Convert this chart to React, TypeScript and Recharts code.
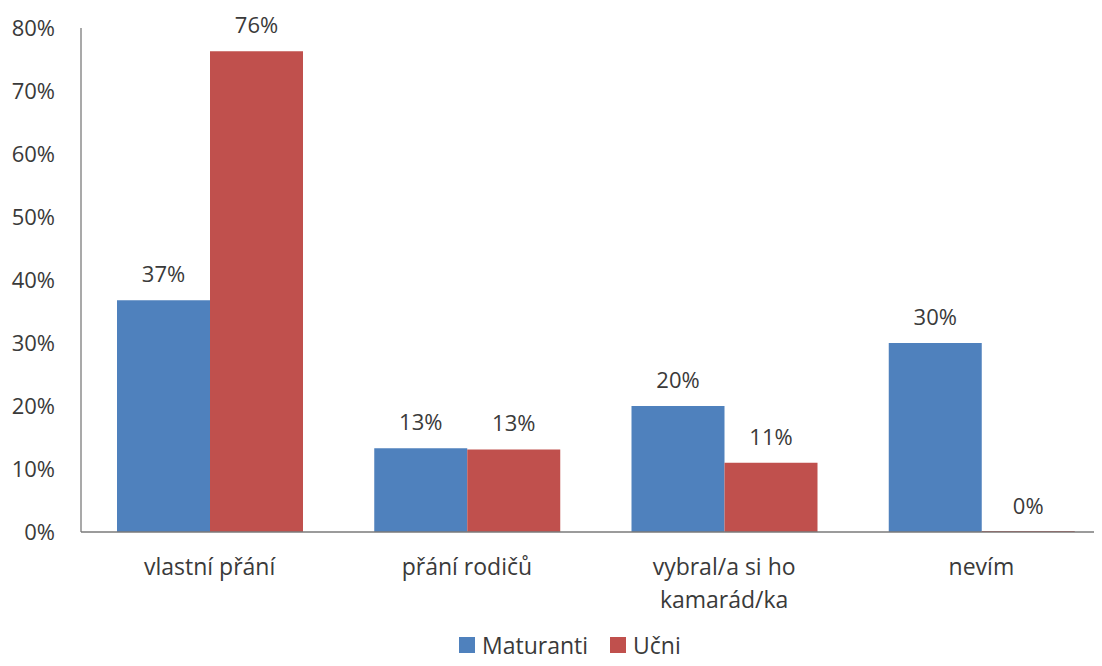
import { Bar, BarChart, LabelList, XAxis, YAxis } from 'recharts'

const categories = ['vlastní přání', 'přání rodičů', 'vybral/a si ho\nkamarád/ka', 'nevím']
const maturanti = [36.8, 13.3, 20, 30]
const ucni = [76.3, 13.1, 11, 0]
const yTicks = [0, 10, 20, 30, 40, 50, 60, 70, 80]

const BLUE = '#4f81bd'
const RED = '#c0504d'
const TEXT = '#3a3a3a'
const FONT = '"Open Sans", sans-serif'

const data = categories.map((name, i) => ({ name, maturanti: maturanti[i], ucni: ucni[i] }))

function CategoryTick({ x, y, payload }: { x?: number; y?: number; payload?: { value: string } }) {
  const lines = String(payload?.value ?? '').split('\n')
  return (
    <text x={x} y={(y ?? 0) + 35} textAnchor="middle" fill={TEXT} fontSize={23} fontFamily={FONT}>
      {lines.map((line, i) => (
        <tspan key={i} x={x} dy={i === 0 ? 0 : 33}>
          {line}
        </tspan>
      ))}
    </text>
  )
}

function ValueLabel(props: any) {
  const { x, y, width, height, value } = props
  if (x == null || y == null) return null
  // zero bars get a 1px min height, so anchor at the bar's base
  const top = Number(value) === 0 ? Number(y) + Number(height) : Number(y)
  return (
    <text x={Number(x) + Number(width) / 2} y={top - 18} textAnchor="middle" fill={TEXT} fontSize={22} fontFamily={FONT}>
      {`${Math.round(Number(value))}%`}
    </text>
  )
}

const legendItems = [
  { label: 'Maturanti', color: BLUE },
  { label: 'Učni', color: RED },
]

export default function App() {
  return (
    <div style={{ margin: -8, width: 1102, height: 666, overflow: 'hidden', background: '#fff', position: 'relative' }}>
      <BarChart
        width={1110}
        height={666}
        data={data}
        margin={{ top: 28, right: 0, left: 0, bottom: 0 }}
        barGap={0}
      >
        <YAxis
          width={81}
          domain={[0, 80]}
          ticks={yTicks}
          interval={0}
          tickFormatter={(v: number) => `${v}%`}
          tick={{ fill: TEXT, fontSize: 22, fontFamily: FONT }}
          tickLine={false}
          tickMargin={20}
          axisLine={{ stroke: '#8c8c8c', strokeWidth: 1.5 }}
        />
        <XAxis
          dataKey="name"
          height={134}
          interval={0}
          tick={<CategoryTick />}
          tickLine={false}
          axisLine={{ stroke: '#7a7a7a', strokeWidth: 1.5 }}
        />
        <Bar dataKey="maturanti" name="Maturanti" fill={BLUE} barSize={93} isAnimationActive={false}>
          <LabelList dataKey="maturanti" content={<ValueLabel />} />
        </Bar>
        <Bar dataKey="ucni" name="Učni" fill={RED} barSize={93} minPointSize={1} isAnimationActive={false}>
          <LabelList dataKey="ucni" content={<ValueLabel />} />
        </Bar>
      </BarChart>
      <div
        style={{
          position: 'absolute',
          left: 459,
          top: 632,
          display: 'flex',
          alignItems: 'center',
          fontFamily: FONT,
          fontSize: 23,
          lineHeight: '26px',
          color: TEXT,
        }}
      >
        {legendItems.map((it) => (
          <div key={it.label} style={{ display: 'flex', alignItems: 'center', marginRight: 22 }}>
            <span style={{ width: 16, height: 16, background: it.color, display: 'inline-block', marginRight: 7 }} />
            <span>{it.label}</span>
          </div>
        ))}
      </div>
    </div>
  )
}
